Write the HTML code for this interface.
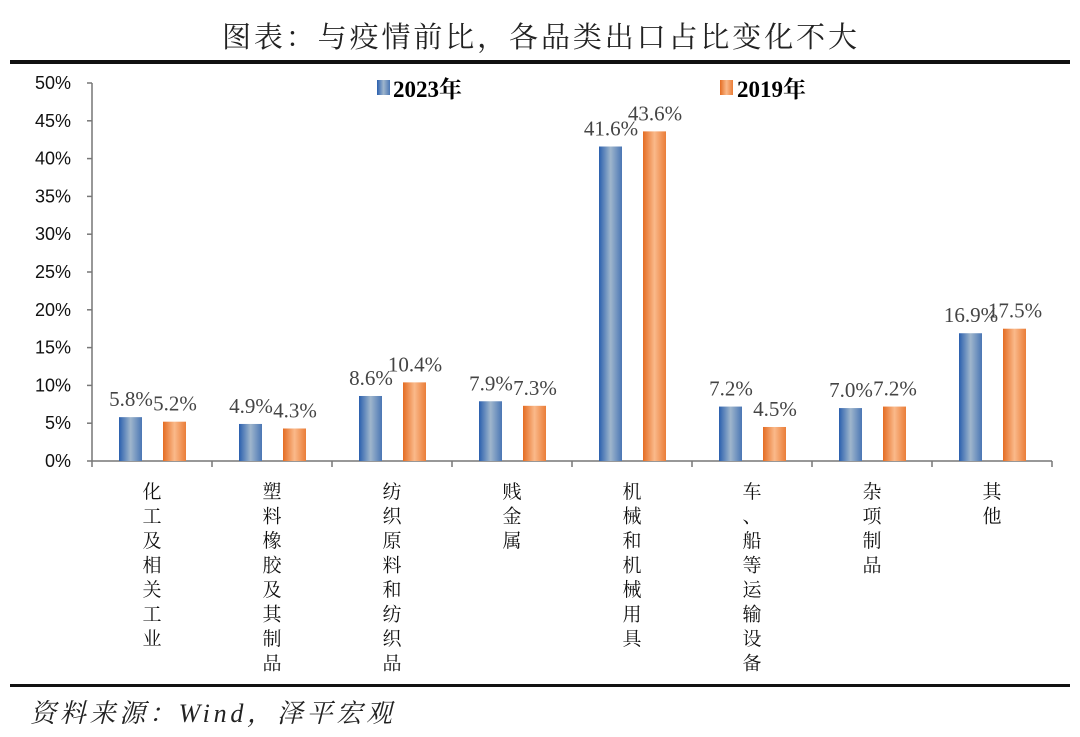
<!DOCTYPE html>
<html><head><meta charset="utf-8">
<style>
body{margin:0;background:#fff;width:1080px;height:737px;overflow:hidden}
svg{display:block}
</style></head><body>
<svg id="c" width="1080" height="737" xmlns="http://www.w3.org/2000/svg">
<defs>
<linearGradient id="gb" x1="0" x2="1" y1="0" y2="0"><stop offset="0" stop-color="#2a5fae"/><stop offset="0.5" stop-color="#9fb6cc"/><stop offset="1" stop-color="#4a76b4"/></linearGradient>
<linearGradient id="go" x1="0" x2="1" y1="0" y2="0"><stop offset="0" stop-color="#e46c22"/><stop offset="0.5" stop-color="#fab98a"/><stop offset="1" stop-color="#ea7d38"/></linearGradient>
</defs>
<text x="541" y="47" text-anchor="middle" font-family="'Liberation Serif','Noto Serif CJK SC',serif" font-size="29" fill="#222" letter-spacing="3" textLength="638">图表：与疫情前比，各品类出口占比变化不大</text>
<rect x="10" y="60" width="1060" height="4" fill="#111"/>
<rect x="10" y="684" width="1060" height="3" fill="#111"/>
<text x="30" y="722" font-family="'Liberation Serif','Noto Serif CJK SC',serif" font-size="26" font-style="italic" fill="#222" textLength="362">资料来源：Wind，泽平宏观</text>
<g>
<rect x="377" y="80" width="13" height="15" fill="url(#gb)"/>
<text x="393" y="97" font-family="'Liberation Serif','Noto Serif CJK SC',serif" font-weight="bold" font-size="23">2023年</text>
<rect x="720" y="80" width="13" height="15" fill="url(#go)"/>
<text x="737" y="97" font-family="'Liberation Serif','Noto Serif CJK SC',serif" font-weight="bold" font-size="23">2019年</text>
</g>
<g id="plot"></g>
</svg>
<script>
const categories=["化工及相关工业","塑料橡胶及其制品","纺织原料和纺织品","贱金属","机械和机械用具","车、船等运输设备","杂项制品","其他"];
const series2023=[5.8,4.9,8.6,7.9,41.6,7.2,7.0,16.9];
const series2019=[5.2,4.3,10.4,7.3,43.6,4.5,7.2,17.5];
const yTicks=[0,5,10,15,20,25,30,35,40,45,50];
const NS="http://www.w3.org/2000/svg";
const g=document.getElementById('plot');
const x0=92,x1=1052,yBase=461,yTop=83,yMax=50;
const bw=(x1-x0)/categories.length;
const y=v=>yBase-(v/yMax)*(yBase-yTop);
function mk(t,a,txt){const e=document.createElementNS(NS,t);for(const k in a)e.setAttribute(k,a[k]);if(txt!=null)e.textContent=txt;g.appendChild(e);return e;}
let e=mk('line',{x1:x0,x2:x0,y1:yTop,y2:yBase,stroke:'#777','stroke-width':1.5});

e=mk('line',{x1:x0,x2:x1,y1:yBase,y2:yBase,stroke:'#777','stroke-width':1.5});

yTicks.forEach(v=>{
 let t=mk('line',{x1:x0-5,x2:x0,y1:y(v),y2:y(v),stroke:'#777','stroke-width':1.5});
 
 let l=mk('text',{x:71,y:y(v)+6,'text-anchor':'end','font-family':'Liberation Sans,sans-serif','font-size':18,fill:'#111'},v+'%');
 
});
for(let i=0;i<=categories.length;i++){
 let t=mk('line',{x1:x0+i*bw,x2:x0+i*bw,y1:yBase,y2:yBase+6,stroke:'#777','stroke-width':1.5});
 
}
categories.forEach((c,i)=>{
 const cx=x0+bw*i+bw/2;
 const a=series2023[i],b=series2019[i];
 let r=mk('rect',{x:cx-33,y:y(a),width:23,height:yBase-y(a),fill:'url(#gb)'});
 
 r=mk('rect',{x:cx+11,y:y(b),width:23,height:yBase-y(b),fill:'url(#go)'});
 
 let l=mk('text',{x:cx-21,y:y(a)-11,'text-anchor':'middle','font-family':'Liberation Serif,serif','font-size':21,fill:'#444'},a.toFixed(1)+'%');
 
 l=mk('text',{x:cx+23,y:y(b)-11,'text-anchor':'middle','font-family':'Liberation Serif,serif','font-size':21,fill:'#444'},b.toFixed(1)+'%');
 
 const tg=document.createElementNS(NS,'text');
 
 
 tg.setAttribute('font-family',"'Noto Serif CJK SC',serif");tg.setAttribute('font-size','19');tg.setAttribute('text-anchor','middle');tg.setAttribute('fill','#111');
 [...c].forEach((ch,k)=>{const s=document.createElementNS(NS,'tspan');s.setAttribute('x',cx);s.setAttribute('y',498+k*24.5);s.textContent=ch;tg.appendChild(s);});
 g.appendChild(tg);
});
</script>
</body></html>
